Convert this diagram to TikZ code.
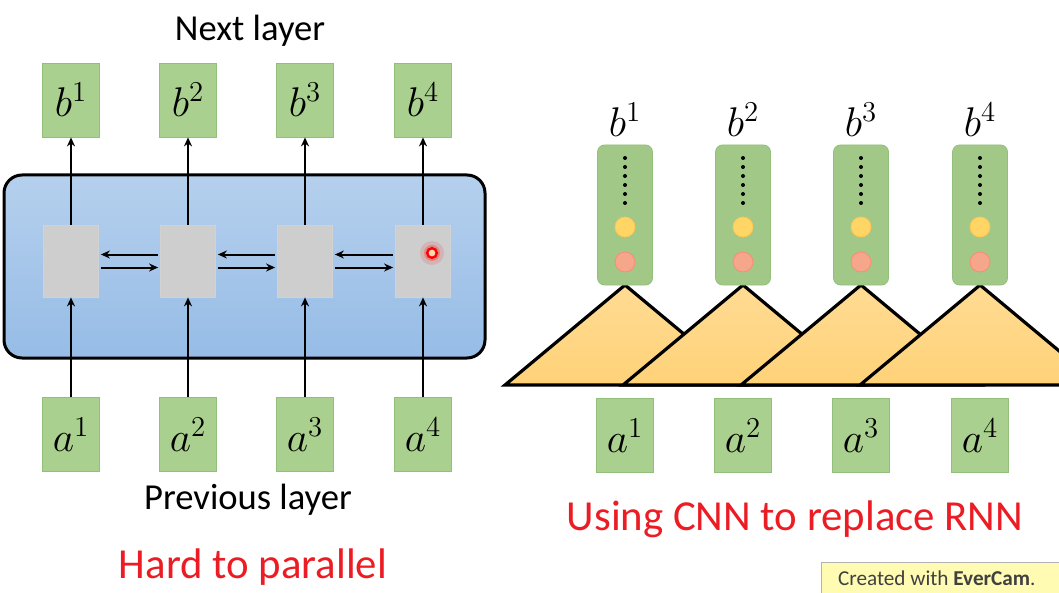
\documentclass[tikz,border=0pt]{standalone}
\usepackage{fontspec}
\setmainfont{Carlito}
\usetikzlibrary{arrows.meta}
\definecolor{boxgreen}{RGB}{169,208,142}
\definecolor{boxedge}{RGB}{146,192,122}
\definecolor{rnnblue}{RGB}{150,188,230}
\definecolor{cellgray}{RGB}{206,206,206}
\definecolor{tri}{RGB}{255,210,120}
\definecolor{hot}{RGB}{236,28,36}
\definecolor{dotyel}{RGB}{255,214,102}
\definecolor{dotred}{RGB}{246,166,138}

\begin{document}
\begin{tikzpicture}[x=0.5pt, y=-0.5pt, >={Stealth[length=4.5pt,width=4pt]},
  box/.style={draw=boxedge, fill=boxgreen, minimum width=28.5pt, minimum height=37pt, inner sep=0pt, font=\fontsize{20.74}{24}\selectfont},
  cell/.style={draw=gray!35, fill=cellgray, minimum width=27.5pt, minimum height=36pt, inner sep=0pt},
  tall/.style={draw=boxedge, fill=boxgreen!96!black, rounded corners=3.5pt, minimum width=27.5pt, minimum height=70pt, inner sep=0pt},
  link/.style={->, line width=1pt},
  lab/.style={font=\fontsize{20.74}{24}\selectfont},
  tri/.style={draw=black, line width=1.6pt, top color=tri!80!white, bottom color=tri, line join=miter},
  caption/.style={font=\fontsize{18.3}{20}\selectfont},
  warn/.style={text=hot, font=\fontsize{21.4}{24}\selectfont}]
  \useasboundingbox (0,0) rectangle (1059,593);
  \clip (0,0) rectangle (1059,593);

  % RNN side
  \draw[line width=1.5pt, rounded corners=9pt, top color=rnnblue!70!white, bottom color=rnnblue] (4,175) rectangle (485,358);
  \foreach \i/\x in {1/71,2/188,3/305,4/423} {
    \node[box] (b\i) at (\x,100) {$b^{\i}$};
    \node[cell] (h\i) at (\x,261) {};
    \node[box] (a\i) at (\x,434.5) {$a^{\i}$};
    \draw[link] (a\i) -- (h\i);
    \draw[link] (h\i) -- (b\i);
  }
  \foreach \i/\j in {1/2,2/3,3/4} {
    \draw[link, shorten <=1pt, shorten >=1pt] ([yshift=3.25pt]h\j.west) -- ([yshift=3.25pt]h\i.east);
    \draw[link, shorten <=1pt, shorten >=1pt] ([yshift=-3.25pt]h\i.east) -- ([yshift=-3.25pt]h\j.west);
  }
  \fill[red, opacity=0.12] ([shift={(9,-8)}]h4.center) circle (6pt);
  \fill[red, opacity=0.25] ([shift={(9,-8)}]h4.center) circle (4pt);
  \draw[red, line width=1.2pt, fill=orange!30] ([shift={(9,-8)}]h4.center) circle (2.4pt);
  \node[caption] (next) at (250,31) {Next layer};
  \node[caption] (prev) at (248,500) {Previous layer};
  \node[warn] (hard) at (253,567) {Hard to parallel};

  % CNN side
  \foreach \i/\x in {1/625,2/743,3/861,4/980} {
    \path[tri] (\x,285) -- ++(120,100) -- ++(-240,0) -- cycle;
    \node[tall] (c\i) at (\x,215) {};
    \node[lab] (t\i) at (\x,120) {$b^{\i}$};
    \node[box] (x\i) at (\x,435.5) {$a^{\i}$};
    \foreach \k in {0,...,5} \fill (\x,{158+9*\k}) circle (1pt);
    \filldraw[fill=dotyel, draw=dotyel!80!orange] (\x,227) circle (5pt);
    \filldraw[fill=dotred, draw=dotred!85!red] (\x,262) circle (5pt);
  }
  \node[warn] (cnn) at (795,519) {Using CNN to replace RNN};

  \draw[gray!60, fill=yellow!30] (821,562) rectangle (1070,600);
  \node[anchor=west, text=black!75, font=\fontsize{10.6}{12}\selectfont] (ever) at (831,578) {Created with \textbf{EverCam}.};
\end{tikzpicture}
\end{document}
